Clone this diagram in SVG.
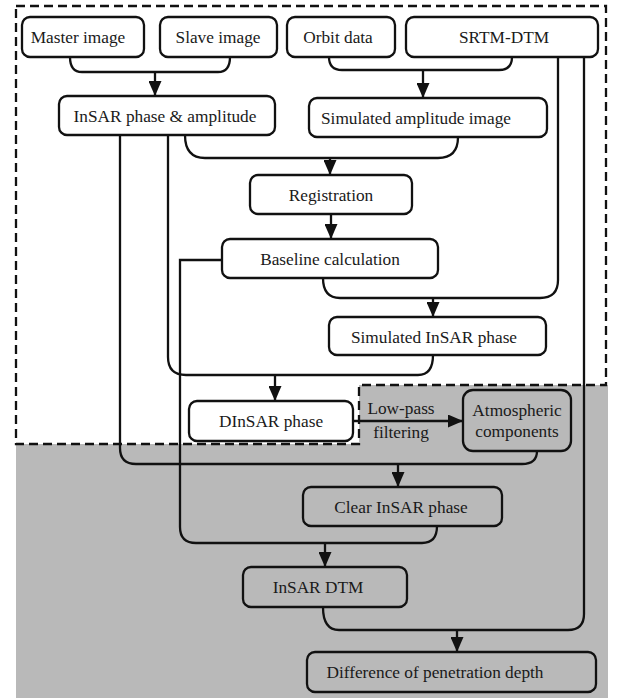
<svg xmlns="http://www.w3.org/2000/svg" width="618" height="700" viewBox="0 0 618 700">
<style>
.box{stroke:#111;stroke-width:2.3;}
.w{fill:#fff;}
.g{fill:none;}
.t{font-family:"Liberation Serif","Times New Roman",serif;font-size:17.3px;fill:#1a1a1a;text-anchor:middle;}
.c{fill:none;stroke:#111;stroke-width:2.3;}
.a{fill:none;stroke:#111;stroke-width:2.3;marker-end:url(#ah);}
</style>
<defs>
<marker id="ah" viewBox="0 0 15 13" refX="15" refY="6.5" markerWidth="15" markerHeight="13" markerUnits="userSpaceOnUse" orient="auto">
<path d="M0,0 L15,6.5 L0,13 z" fill="#111"/>
</marker>
</defs>
<rect x="0" y="0" width="618" height="700" fill="#fff"/>
<path d="M16,444 H359 V385 H608 V698 H16 Z" fill="#b9b9b9"/>
<path d="M16,6 H606 V385 H359 V444 H16 Z" fill="none" stroke="#111" stroke-width="2.3" stroke-dasharray="9,5"/>
<g id="connectors">
<path class="c" d="M70,57 Q70,72 82,72 H218 Q230,72 230,57"/>
<path class="a" d="M155,72 V96"/>
<path class="c" d="M329,57 Q329,70 342,70 H499 Q512,70 512,57"/>
<path class="a" d="M423,70 V98"/>
<path class="c" d="M185,135 Q185,158 205,158 H438 Q458,158 458,137"/>
<path class="a" d="M330,158 V175"/>
<path class="a" d="M331,214 V239"/>
<path class="c" d="M558,57 V280 Q558,298 540,298 H340 Q323,298 323,278"/>
<path class="a" d="M433,298 V317"/>
<path class="c" d="M168,135 V357 Q168,375 186,375 H418 Q433,375 433,355"/>
<path class="a" d="M275,375 V401"/>
<path class="c" d="M120,135 V448 Q120,464 136,464 H522 Q537,464 537,451"/>
<path class="a" d="M398,464 V487"/>
<path class="c" d="M222,260 H180 V527 Q180,543 196,543 H422 Q437,543 437,526"/>
<path class="a" d="M325,543 V567"/>
<path class="c" d="M584,57 V614 Q584,630 568,630 H339 Q323,630 323,607"/>
<path class="a" d="M457,630 V652"/>
<path class="a" d="M353,421 H463"/>
</g>
<g id="master"><rect class="box w" x="22" y="17" width="122" height="40" rx="8"/><text class="t" x="78" y="43">Master image</text></g>
<g id="slave"><rect class="box w" x="160" y="17" width="117" height="40" rx="8"/><text class="t" x="218" y="43">Slave image</text></g>
<g id="orbit"><rect class="box w" x="287" y="17" width="108" height="40" rx="8"/><text class="t" x="338" y="43">Orbit data</text></g>
<g id="srtm"><rect class="box w" x="406" y="17" width="192" height="40" rx="8"/><text class="t" x="504" y="43">SRTM-DTM</text></g>
<g id="insar-pa"><rect class="box w" x="59" y="96" width="216" height="39" rx="8"/><text class="t" x="165" y="122">InSAR phase &amp; amplitude</text></g>
<g id="sim-amp"><rect class="box w" x="309" y="98" width="238" height="39" rx="8"/><text class="t" x="416" y="124">Simulated amplitude image</text></g>
<g id="registration"><rect class="box w" x="250" y="175" width="162" height="39" rx="8"/><text class="t" x="331" y="201">Registration</text></g>
<g id="baseline"><rect class="box w" x="222" y="239" width="216" height="39" rx="8"/><text class="t" x="330" y="265">Baseline calculation</text></g>
<g id="sim-insar"><rect class="box w" x="329" y="317" width="217" height="38" rx="8"/><text class="t" x="434" y="343">Simulated InSAR phase</text></g>
<g id="dinsar"><rect class="box w" x="189" y="401" width="164" height="40" rx="8"/><text class="t" x="271" y="427">DInSAR phase</text></g>
<g id="lowpass"><text class="t" x="401" y="414">Low-pass</text><text class="t" x="401" y="438">filtering</text></g>
<g id="atmos"><rect class="box g" x="463" y="390" width="108" height="61" rx="10"/><text class="t" x="517" y="416">Atmospheric</text><text class="t" x="517" y="437">components</text></g>
<g id="clear"><rect class="box g" x="303" y="487" width="199" height="39" rx="8"/><text class="t" x="401" y="513">Clear InSAR phase</text></g>
<g id="insar-dtm"><rect class="box g" x="243" y="567" width="164" height="40" rx="8"/><text class="t" x="318" y="593">InSAR DTM</text></g>
<g id="diff"><rect class="box g" x="307" y="652" width="289" height="40" rx="8"/><text class="t" x="435" y="678">Difference of penetration depth</text></g>
</svg>
